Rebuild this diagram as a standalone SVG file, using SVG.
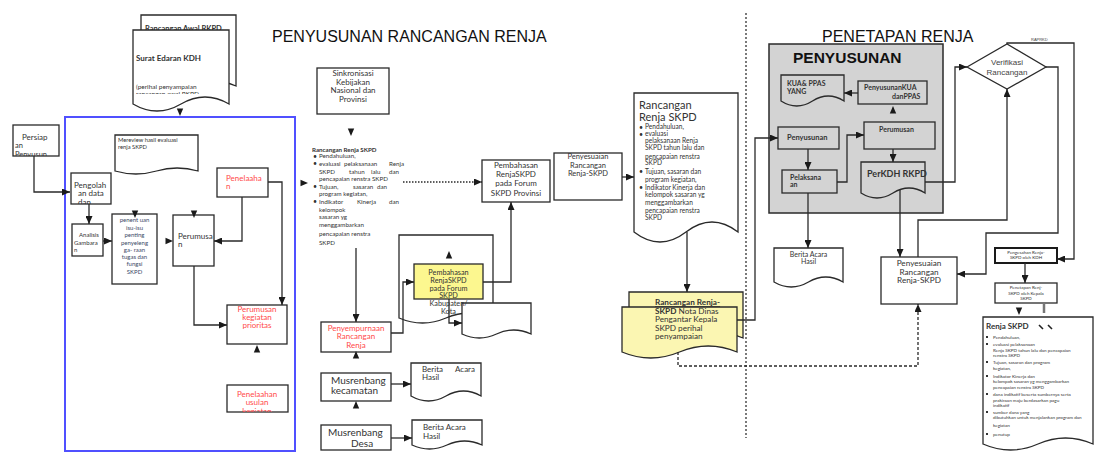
<svg xmlns="http://www.w3.org/2000/svg" xmlns:xlink="http://www.w3.org/1999/xlink" width="1094" height="453" viewBox="0 0 1094 453">
<defs>
<style>
.b{fill:#fff;stroke:#2a2a2a;stroke-width:1.3}
.g{fill:#d3d3d3;stroke:#2a2a2a;stroke-width:1.3}
.y{fill:#fcf78f;stroke:#2a2a2a;stroke-width:1.3}
.yd{fill:#fbf6b2;stroke:#2a2a2a;stroke-width:1.3}
.t{font-family:Lato,"Open Sans",sans-serif;fill:#333}
.bd{font-weight:bold}
.r{fill:#ff4a4a}
.h{font-family:"Liberation Sans",Arial,sans-serif;fill:#111}
.ln{fill:none;stroke:#2a2a2a;stroke-width:1.3}
.c{text-anchor:middle}
</style>
<marker id="a" viewBox="0 0 8 7" refX="8" refY="3.5" markerWidth="8" markerHeight="7" orient="auto" markerUnits="userSpaceOnUse"><path d="M0,0 L8,3.5 L0,7Z" fill="#1a1a1a"/></marker>
<path id="ar" d="M-3.5,-3.2 L4,0 L-3.5,3.2Z" fill="#1a1a1a"/>
<clipPath id="cpPers"><rect x="13" y="125" width="46" height="31"/></clipPath>
<clipPath id="cpPeng"><rect x="71" y="173" width="40" height="31"/></clipPath>
<clipPath id="cpSur"><rect x="133" y="30" width="96" height="64"/></clipPath>
<clipPath id="cpUsu"><rect x="227" y="385" width="61" height="27"/></clipPath>
</defs>
<rect width="1094" height="453" fill="#fff"/>

<text class="h" x="272" y="42" font-size="16">PENYUSUNAN RANCANGAN RENJA</text>
<text class="h" x="822" y="42" font-size="16">PENETAPAN RENJA</text>

<g id="blue-frame"><rect x="65" y="117" width="230" height="334" fill="none" stroke="#5050ff" stroke-width="2"/></g>

<g id="n-awal"><path class="b" d="M141,15 H236 V86 Q212,76 188.5,86 T141,86 Z"/>
<text class="t bd" x="145" y="31" font-size="7.5">Rancangan Awal RKPD</text></g>
<g id="n-surat"><path class="b" d="M133,30 H229 V104 Q205,90 181,104 T133,104 Z"/>
<text class="t bd" x="136" y="61" font-size="8">Surat Edaran KDH</text>
<g clip-path="url(#cpSur)"><text class="t" x="136" y="89" font-size="6.5">(perihal penyampaian</text><text class="t" x="136" y="96" font-size="6.5">rancangan awal RKPD</text></g></g>

<g id="n-persiapan"><rect class="b" x="13" y="125" width="46" height="31"/>
<g clip-path="url(#cpPers)"><text class="t" x="22" y="140" font-size="8">Persiap</text><text class="t" x="15" y="148" font-size="7.5">an</text><text class="t" x="15" y="157" font-size="7.5">Penyusun</text></g></g>

<g id="n-mereview"><path class="b" d="M115,135 H198 V171 Q177,165 156.5,171 T115,171 Z"/>
<text class="t" x="118" y="142" font-size="5.8">Mereview hasil evaluasi</text><text class="t" x="118" y="149" font-size="5.8">renja SKPD</text></g>

<g id="n-pengolah"><rect class="b" x="71" y="173" width="40" height="31"/>
<g clip-path="url(#cpPeng)"><text class="t" x="74" y="188" font-size="8">Pengolah</text><text class="t" x="78" y="196" font-size="8">an data</text><text class="t" x="78" y="205" font-size="8">dan</text></g></g>

<g id="n-penelaahan"><rect class="b" x="217" y="168" width="51" height="29"/>
<text class="t r" x="226" y="181" font-size="8">Penelaaha</text><text class="t r" x="226" y="189" font-size="8">n</text></g>

<g id="n-analisis"><rect class="b" x="72" y="224" width="31" height="32"/>
<text class="t" x="79" y="237" font-size="6">Analisis</text><text class="t" x="74" y="245" font-size="6">Gambara</text><text class="t" x="74" y="252" font-size="6">n</text></g>

<g id="n-penentuan"><rect class="b" x="112" y="214" width="45" height="70"/>
<g class="t c" font-size="6" style="fill:#3a4866"><text x="134.5" y="222">penent uan</text><text x="134.5" y="230">isu-isu</text><text x="134.5" y="237">penting</text><text x="134.5" y="245">penyeleng</text><text x="134.5" y="252">ga- raan</text><text x="134.5" y="259">tugas dan</text><text x="134.5" y="266">fungsi</text><text x="134.5" y="274">SKPD</text></g></g>

<g id="n-perumusan"><rect class="b" x="173" y="215" width="41" height="51"/>
<text class="t" x="178" y="239" font-size="8">Perumusa</text><text class="t" x="178" y="247" font-size="8">n</text></g>

<g id="n-prioritas"><rect class="b" x="227" y="305" width="60" height="39"/>
<g class="t r c" font-size="8"><text x="257" y="312">Perumusan</text><text x="257" y="320">kegiatan</text><text x="257" y="328">prioritas</text></g></g>

<g id="n-usulan"><rect class="b" x="227" y="385" width="61" height="27"/>
<g class="t r c" font-size="8" clip-path="url(#cpUsu)"><text x="257" y="397">Penelaahan</text><text x="257" y="405">usulan</text><text x="257" y="414">kegiatan</text></g></g>

<g id="n-sinkronisasi"><rect class="b" x="317" y="68" width="72" height="46"/>
<g class="t c" font-size="8"><text x="353" y="76">Sinkronisasi</text><text x="353" y="85">Kebijakan</text><text x="353" y="93">Nasional dan</text><text x="353" y="102">Provinsi</text></g></g>

<g id="n-list" class="t" font-size="6.2">
<text class="bd" x="312" y="152">Rancangan Renja SKPD</text>
<g font-size="7"><text x="313" y="159">•</text><text x="313" y="166">•</text><text x="313" y="189">•</text><text x="313" y="204">•</text></g>
<text x="319" y="158">Pendahuluan,</text>
<text y="166"><tspan x="319">evaluasi</tspan><tspan x="344">pelaksanaan</tspan><tspan x="389">Renja</tspan></text>
<text y="174"><tspan x="319">SKPD</tspan><tspan x="349">tahun</tspan><tspan x="371">lalu</tspan><tspan x="389">dan</tspan></text>
<text x="319" y="181">pencapaian renstra SKPD</text>
<text y="189"><tspan x="319">Tujuan,</tspan><tspan x="353">sasaran</tspan><tspan x="377">dan</tspan></text>
<text x="319" y="196">program kegiatan,</text>
<text y="204"><tspan x="319">Indikator</tspan><tspan x="357">Kinerja</tspan><tspan x="389">dan</tspan></text>
<text x="319" y="212">kelompok</text>
<text x="319" y="219">sasaran yg</text>
<text x="319" y="227">menggambarkan</text>
<text x="319" y="236">pencapaian renstra</text>
<text x="319" y="245">SKPD</text>
</g>

<g id="n-forum-prov"><rect class="b" x="482" y="160" width="68" height="42"/>
<g class="t c" font-size="8"><text x="516" y="168">Pembahasan</text><text x="516" y="177">RenjaSKPD</text><text x="516" y="186">pada Forum</text><text x="516" y="196">SKPD Provinsi</text></g></g>

<g id="n-penyesuaian-prov"><rect class="b" x="554" y="153" width="68" height="47"/>
<g class="t c" font-size="7.5"><text x="588" y="159">Penyesuaian</text><text x="588" y="168">Rancangan</text><text x="588" y="176">Renja-SKPD</text></g></g>

<g id="n-doc-kab-back"><path class="b" d="M399,235 H493 V318 Q469.5,308 446,318 T399,318 Z"/></g>
<g id="n-doc-kab2"><path class="b" d="M462,303 H531 V334 Q513.75,326 496.5,334 T462,334 Z"/></g>
<g id="n-forum-kab"><rect class="y" x="414" y="264" width="69" height="35"/>
<g class="t c" font-size="7.3"><text x="448.5" y="275">Pembahasan</text><text x="448.5" y="283">RenjaSKPD</text><text x="448.5" y="290.5">pada Forum</text><text x="448.5" y="298">SKPD</text><text x="448.5" y="306">Kabupaten/</text><text x="448.5" y="314">Kota</text></g></g>

<g id="n-penyempurnaan"><rect class="b" x="321" y="322" width="70" height="30"/>
<g class="t r c" font-size="8"><text x="356" y="331">Penyempurnaan</text><text x="356" y="339">Rancangan</text><text x="356" y="348">Renja</text></g></g>

<g id="n-kecamatan"><rect class="b" x="321" y="373" width="70" height="28"/>
<text class="t" x="331" y="384" font-size="10">Musrenbang</text><text class="t" x="331" y="394" font-size="10">kecamatan</text></g>
<g id="n-ba1"><path class="b" d="M411,363 H481 V396 Q463.5,386 446,396 T411,396 Z"/>
<text class="t" x="422" y="372" font-size="8">Berita</text><text class="t" x="455" y="372" font-size="8">Acara</text><text class="t" x="422" y="380" font-size="8">Hasil</text></g>

<g id="n-desa"><rect class="b" x="321" y="425" width="70" height="25"/>
<text class="t" x="328" y="436" font-size="10">Musrenbang</text><text class="t" x="351" y="447" font-size="10">Desa</text></g>
<g id="n-ba2"><path class="b" d="M412,420 H482 V445 Q464.5,437 447,445 T412,445 Z"/>
<text class="t" x="423" y="430" font-size="8">Berita Acara</text><text class="t" x="423" y="439" font-size="8">Hasil</text></g>

<g id="n-rancangan-doc"><path class="b" d="M634,93 H738 V232 Q712,212 686,232 T634,232 Z"/>
<text class="t" x="639" y="109" font-size="11">Rancangan</text><text class="t" x="639" y="121" font-size="11">Renja SKPD</text>
<g class="t" font-size="6.6">
<g font-size="7"><text x="639" y="130">•</text><text x="639" y="137">•</text><text x="639" y="174">•</text><text x="639" y="190">•</text></g>
<text x="645" y="129">Pendahuluan,</text>
<text x="645" y="136">evaluasi</text>
<text x="645" y="143">pelaksanaan Renja</text>
<text x="645" y="150">SKPD tahun lalu dan</text>
<text x="645" y="159">pencapaian renstra</text>
<text x="645" y="165">SKPD</text>
<text x="645" y="174">Tujuan, sasaran dan</text>
<text x="645" y="182">program kegiatan,</text>
<text x="645" y="190">Indikator Kinerja dan</text>
<text x="645" y="197">kelompok sasaran yg</text>
<text x="645" y="205">menggambarkan</text>
<text x="645" y="213">pencapaian renstra</text>
<text x="645" y="220">SKPD</text></g></g>

<g id="n-nota-dinas"><path class="yd" d="M629,292 H743 V338 Q714.5,326 686,338 T629,338 Z"/>
<path class="yd" d="M622,307 H737 V352 Q708.25,340 679.5,352 T622,352 Z"/>
<g class="t" font-size="8.2"><text class="bd" x="655" y="305" text-decoration="underline">Rancangan Renja-</text>
<text x="655" y="313.5"><tspan class="bd">SKPD</tspan> Nota Dinas</text>
<text x="655" y="322">Pengantar Kepala</text><text x="655" y="330.5">SKPD perihal</text><text x="655" y="339">penyampaian</text></g></g>

<g id="n-penyusunan-frame"><rect x="769" y="44" width="174" height="169" fill="#d3d3d3" stroke="#2a2a2a" stroke-width="1.5"/>
<text class="h bd" x="793" y="63" font-size="15.5">PENYUSUNAN</text></g>
<g id="n-kua-doc"><path class="g" d="M781,75 H844 V101 Q828.25,91 812.5,101 T781,101 Z"/>
<text class="t bd" x="787" y="86" font-size="7">KUA&amp; PPAS</text><text class="t bd" x="787" y="94" font-size="7">YANG</text></g>
<g id="n-kua-box"><rect class="g" x="858" y="81" width="69" height="23"/>
<text class="t bd" x="864" y="90" font-size="7">PenyusunanKUA</text><text class="t bd" x="892" y="99" font-size="7">danPPAS</text></g>
<g id="n-perumusan2"><rect class="g" x="864" y="122" width="71" height="27"/>
<text class="t bd" x="879" y="132" font-size="7">Perumusan</text></g>
<g id="n-penyusunan2"><rect class="g" x="778" y="127" width="61" height="22"/>
<text class="t bd" x="787" y="140" font-size="7.5">Penyusunan</text></g>
<g id="n-pelaksanaan"><rect class="g" x="782" y="170" width="55" height="23"/>
<text class="t bd" x="790" y="180" font-size="7">Pelaksana</text><text class="t bd" x="790" y="187" font-size="7">an</text></g>
<g id="n-perkdh"><path class="g" d="M861,162 H925 V193 Q909,183 893,193 T861,193 Z"/>
<text class="t bd" x="867" y="177" font-size="9">PerKDH  RKPD</text></g>

<g id="n-ba-right"><path class="b" d="M774,248 H843 V282 Q825.75,272 808.5,282 T774,282 Z"/>
<text class="t c" x="808.5" y="257" font-size="7">Berita Acara</text><text class="t c" x="808.5" y="264" font-size="7">Hasil</text></g>

<g id="n-verifikasi"><polygon points="967,67 1007,44 1046,67 1007,89" fill="#fff" stroke="#2a2a2a" stroke-width="1.3"/>
<text class="h c" x="1007" y="65" font-size="8" style="fill:#444">Verifikasi</text><text class="h c" x="1007" y="75" font-size="8" style="fill:#444">Rancangan</text></g>
<text class="h" x="1031" y="41" font-size="4" style="fill:#444">RAPRKD</text>

<g id="n-penyesuaian-right"><rect class="b" x="881" y="257" width="76" height="47"/>
<g class="t c" font-size="8.2"><text x="919" y="266">Penyesuaian</text><text x="919" y="274.5">Rancangan</text><text x="919" y="283">Renja-SKPD</text></g></g>

<g id="n-pengesahan"><rect x="995" y="248" width="62" height="15" fill="#fff" stroke="#1a1a1a" stroke-width="2"/>
<g class="t c" font-size="4.5"><text x="1026" y="254">Pengesahan Renja-</text><text x="1026" y="259">SKPD oleh KDH</text></g></g>
<g id="n-penetapan"><rect class="b" x="995" y="283" width="62" height="20"/>
<g class="t c" font-size="4.5"><text x="1026" y="289">Penetapan Renj-</text><text x="1026" y="294.5">SKPD oleh Kepala</text><text x="1026" y="300">SKPD</text></g></g>

<g id="n-renja-final"><path class="b" d="M983,317 H1093 V444 Q1065.5,432 1038,444 T983,444 Z"/>
<text class="t bd" x="986" y="329" font-size="8">Renja  SKPD</text>
<path d="M1039,325 L1043,329 M1048,325 L1052,329" stroke="#222" stroke-width="1.6"/>
<g fill="#333"><rect x="986" y="336" width="2" height="2"/><rect x="986" y="343" width="2" height="2"/><rect x="986" y="361" width="2" height="2"/><rect x="986" y="375" width="2" height="2"/><rect x="986" y="393" width="2" height="2"/><rect x="986" y="411" width="2" height="2"/><rect x="986" y="433" width="2" height="2"/></g>
<g class="t" font-size="4.6">
<text x="993" y="339">Pendahuluan,</text>
<text x="993" y="346">evaluasi pelaksanaan</text>
<text x="993" y="352">Renja SKPD tahun lalu dan pencapaian</text>
<text x="993" y="357">renstra SKPD</text>
<text x="993" y="364">Tujuan, sasaran dan program</text>
<text x="993" y="370">kegiatan,</text>
<text x="993" y="378">Indikator Kinerja dan</text>
<text x="993" y="383">kelompok sasaran yg menggambarkan</text>
<text x="993" y="389">pencapaian renstra SKPD</text>
<text x="993" y="396">dana indikatif beserta sumbernya serta</text>
<text x="993" y="402">prakiraan maju        berdasarkan pagu</text>
<text x="993" y="407">indikatif</text>
<text x="993" y="414">sumber dana yang</text>
<text x="993" y="419">dibutuhkan untuk menjalankan program dan</text>
<text x="993" y="427">kegiatan</text>
<text x="993" y="436">penutup</text></g></g>

<g id="connectors">
<path class="ln" d="M34,156 V192 H70" marker-end="url(#a)"/>
<path class="ln" d="M89,204 V224" marker-end="url(#a)"/>
<path class="ln" d="M103,241 H112" marker-end="url(#a)"/>
<path class="ln" d="M242,197 V241 H214" marker-end="url(#a)"/>
<path class="ln" d="M268,182 H282 V305" marker-end="url(#a)"/>
<path class="ln" d="M194,266 V325 H227" marker-end="url(#a)"/>
<path class="ln" d="M356,248 V322" marker-end="url(#a)"/>
<path class="ln" d="M403,182 H482" stroke-dasharray="1.5,1.5" marker-end="url(#a)"/>
<path class="ln" d="M391,333 H403 V282 H414" marker-end="url(#a)"/>
<path class="ln" d="M483,282 H511 V202" marker-end="url(#a)"/>
<path class="ln" d="M449,299 V323 H462" marker-end="url(#a)"/>
<path class="ln" d="M391,384 H411" marker-end="url(#a)"/>
<path class="ln" d="M391,438 H412" marker-end="url(#a)"/>
<path class="ln" d="M622,177 H634" marker-end="url(#a)"/>
<path class="ln" d="M687,232 V292" marker-end="url(#a)"/>
<path class="ln" d="M737,320 H755 V138 H778" marker-end="url(#a)"/>
<path class="ln" d="M678,352 V366 H918 V304" stroke-dasharray="3,2" marker-end="url(#a)"/>
<path class="ln" d="M808,149 V170" marker-end="url(#a)"/>
<path class="ln" d="M837,182 H847 V135 H864" marker-end="url(#a)"/>
<path class="ln" d="M858,93 H844" marker-end="url(#a)"/>
<path class="ln" d="M893,149 V162" marker-end="url(#a)"/>
<path class="ln" d="M808,193 V248" marker-end="url(#a)"/>
<path class="ln" d="M925,182 H955 V67 H967" marker-end="url(#a)"/>
<path class="ln" d="M900,190 V257" stroke-width="1.6" marker-end="url(#a)"/>
<path class="ln" d="M918,257 V220 H1007 V89" stroke-width="1.6" marker-end="url(#a)"/>
<path class="ln" d="M1046,67 H1058 V233 H986 V274 H957" marker-end="url(#a)"/>
<path class="ln" d="M1007,44 V43 H1074 V259 H1057" marker-end="url(#a)"/>
<path class="ln" d="M1025,263 V283" marker-end="url(#a)"/>
<path d="M1044,303 V313" stroke="#777" stroke-width="2.5"/>
<path d="M746,13 V438" stroke="#222" stroke-width="1.2" stroke-dasharray="2,2"/>
<use href="#ar" transform="translate(180,112) rotate(90)"/>
<use href="#ar" transform="translate(135,214) rotate(90)"/>
<use href="#ar" transform="translate(194,214) rotate(90)"/>
<use href="#ar" transform="translate(169,241)"/>
<use href="#ar" transform="translate(257,349) rotate(-90)"/>
<use href="#ar" transform="translate(351,132) rotate(90)"/>
<use href="#ar" transform="translate(304,183)"/>
<use href="#ar" transform="translate(449,255) rotate(-90)"/>
<use href="#ar" transform="translate(356,355) rotate(-90)"/>
<use href="#ar" transform="translate(356,405) rotate(-90)"/>
<use href="#ar" transform="translate(893,110) rotate(-90)"/>
<use href="#ar" transform="translate(1019,311) rotate(90)"/>
</g>
</svg>
